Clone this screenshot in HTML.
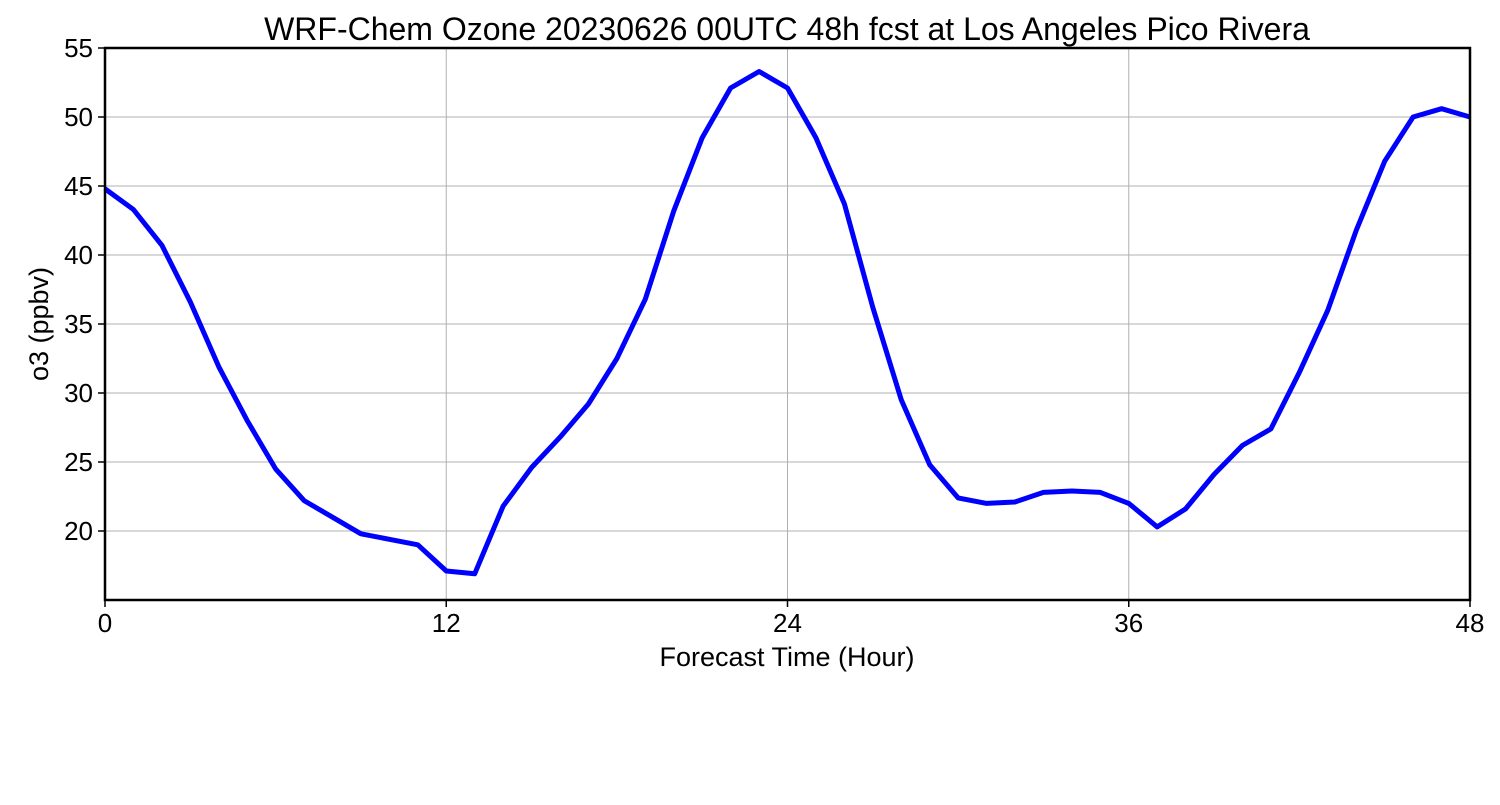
<!DOCTYPE html>
<html><head><meta charset="utf-8"><style>
body{margin:0;background:#fff;}
svg{font-family:"Liberation Sans","DejaVu Sans",sans-serif;}
</style></head><body>
<svg id="chart" width="1500" height="800" xmlns="http://www.w3.org/2000/svg">
<text x="787" y="40" font-size="32" text-anchor="middle" fill="#000">WRF-Chem Ozone  20230626 00UTC 48h fcst at Los Angeles Pico Rivera</text>
<g id="grid"></g>
<g id="axes"></g>
<path id="line" fill="none" stroke="#0000ff" stroke-width="5" stroke-linejoin="round"/>
<rect x="105" y="48" width="1365" height="552" fill="none" stroke="#000" stroke-width="2.5"/>
<text x="787" y="666" font-size="27" text-anchor="middle">Forecast Time (Hour)</text>
<text transform="translate(48,324) rotate(-90)" font-size="27" text-anchor="middle">o3  (ppbv)</text>
</svg>
<script>
const hours=[0,1,2,3,4,5,6,7,8,9,10,11,12,13,14,15,16,17,18,19,20,21,22,23,24,25,26,27,28,29,30,31,32,33,34,35,36,37,38,39,40,41,42,43,44,45,46,47,48];
const ozone=[44.8,43.3,40.7,36.6,31.9,28.0,24.5,22.2,21.0,19.8,19.4,19.0,17.1,16.9,21.8,24.6,26.8,29.2,32.5,36.8,43.2,48.5,52.1,53.3,52.1,48.5,43.7,36.2,29.5,24.8,22.4,22.0,22.1,22.8,22.9,22.8,22.0,20.3,21.6,24.1,26.2,27.4,31.5,36.0,41.8,46.8,50.0,50.6,50.0];
const xTicks=[0,12,24,36,48];
const yTicks=[20,25,30,35,40,45,50,55];
const NS="http://www.w3.org/2000/svg";
const x=v=>105+(v/48)*1365;
const y=v=>600-((v-15)/40)*552;
const grid=document.getElementById('grid'),axes=document.getElementById('axes');
function mk(tag,attrs,parent){const e=document.createElementNS(NS,tag);for(const k in attrs)e.setAttribute(k,attrs[k]);parent.appendChild(e);return e;}
xTicks.forEach(t=>{
  const g=mk('line',{x1:x(t),x2:x(t),y1:48,y2:600,stroke:'#b0b0b0','stroke-width':1},grid);
  
  
  const tk=mk('line',{x1:x(t),x2:x(t),y1:600,y2:607,stroke:'#000','stroke-width':1.5},axes);
  
  
  const l=mk('text',{x:x(t),y:632,'font-size':26,'text-anchor':'middle'},axes);
  
  
  l.textContent=t;
});
yTicks.forEach(t=>{
  const g=mk('line',{x1:105,x2:1470,y1:y(t),y2:y(t),stroke:'#b0b0b0','stroke-width':1},grid);
  
  
  const tk=mk('line',{x1:98,x2:105,y1:y(t),y2:y(t),stroke:'#000','stroke-width':1.5},axes);
  
  
  const l=mk('text',{x:93,y:y(t)+9,'font-size':26,'text-anchor':'end'},axes);
  
  
  l.textContent=t;
});
document.getElementById('line').setAttribute('d',hours.map((h,i)=>(i?'L':'M')+x(h).toFixed(1)+','+y(ozone[i]).toFixed(1)).join(''));
</script>
</body></html>
